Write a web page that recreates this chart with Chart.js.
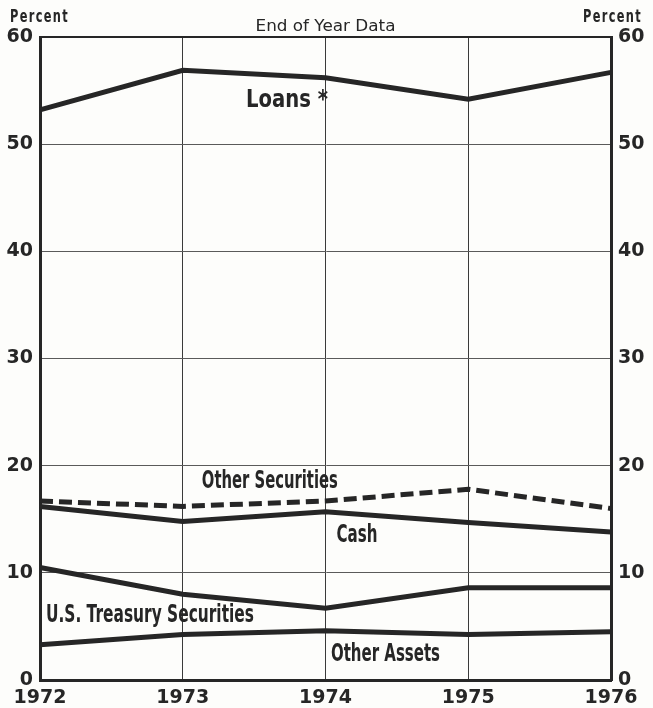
<!DOCTYPE html>
<html>
<head>
<meta charset="utf-8">
<script src="https://cdn.jsdelivr.net/npm/chart.js@4.4.0/dist/chart.umd.min.js"></script>
<style>
  html, body { margin: 0; padding: 0; background: #fdfdfb; }
  #wrap { width: 653px; height: 708px; }
</style>
</head>
<body>
<div id="wrap"><canvas id="assetChart" width="653" height="708"></canvas></div>
<script>
const years = ['1972', '1973', '1974', '1975', '1976'];
const loans = [53.2, 56.9, 56.2, 54.2, 56.7];
const otherSecurities = [16.7, 16.2, 16.7, 17.8, 16.0];
const cash = [16.2, 14.8, 15.7, 14.7, 13.8];
const treasury = [10.5, 8.0, 6.7, 8.6, 8.6];
const otherAssets = [3.3, 4.25, 4.6, 4.25, 4.5];
const yTicks = [0, 10, 20, 30, 40, 50, 60];

const INK = '#262626';
const SANS = "'DejaVu Sans', sans-serif";

// series labels, placed in data units (x = year index, y = percent), w = printed width
const seriesLabels = [
  { text: 'Loans *', x: 1.73, y: 54.1, w: 82 },
  { text: 'Other Securities', x: 1.61, y: 18.5, w: 136 },
  { text: 'Cash', x: 2.22, y: 13.5, w: 41 },
  { text: 'U.S. Treasury Securities', x: 0.77, y: 6.0, w: 208 },
  { text: 'Other Assets', x: 2.42, y: 2.4, w: 109 }
];

// draw text squeezed to a given width (the original uses a condensed face)
function fitText(ctx, text, x, y, w, align) {
  const m = ctx.measureText(text).width;
  const sx = w / m;
  ctx.save();
  ctx.translate(x, y);
  ctx.scale(sx, 1);
  ctx.textAlign = align || 'center';
  ctx.fillText(text, 0, 0);
  ctx.restore();
}

function line(label, data, dashed) {
  return {
    label: label,
    data: data,
    borderColor: INK,
    borderWidth: 5,
    borderDash: dashed ? [13, 6] : [],
    pointRadius: 0,
    tension: 0,
    fill: false
  };
}

const textPlugin = {
  id: 'chartText',
  afterDatasetsDraw(chart) {
    const { ctx, chartArea, scales } = chart;
    ctx.save();
    ctx.fillStyle = INK;
    ctx.textBaseline = 'middle';

    ctx.font = 'bold 25px ' + SANS;
    seriesLabels.forEach(l => {
      fitText(ctx, l.text, scales.x.getPixelForValue(l.x), scales.y.getPixelForValue(l.y), l.w);
    });

    ctx.font = '15px ' + SANS;
    fitText(ctx, 'End of Year Data', (chartArea.left + chartArea.right) / 2, chartArea.top - 10, 140);

    ctx.font = 'bold 17px ' + SANS;
    ctx.letterSpacing = '2px';
    fitText(ctx, 'Percent', 10, chartArea.top - 19, 59, 'left');
    fitText(ctx, 'Percent', chart.width - 11, chartArea.top - 19, 59, 'right');
    ctx.restore();
  }
};

const ctx = document.getElementById('assetChart').getContext('2d');
new Chart(ctx, {
  type: 'line',
  data: {
    labels: years,
    datasets: [
      line('Loans', loans),
      line('Other Securities', otherSecurities, true),
      line('Cash', cash),
      line('U.S. Treasury Securities', treasury),
      line('Other Assets', otherAssets)
    ]
  },
  options: {
    responsive: false,
    animation: false,
    layout: { padding: { top: 37, left: 0, right: 0, bottom: 0 } },
    plugins: {
      legend: { display: false },
      tooltip: { enabled: false }
    },
    scales: {
      x: {
        offset: false,
        grid: { color: '#3a3a3a', lineWidth: 1, drawTicks: false },
        border: { display: true, color: INK, width: 3 },
        ticks: {
          color: INK,
          padding: 7,
          maxRotation: 0,
          autoSkip: false,
          font: { family: SANS, size: 19, weight: 'bold' }
        },
        afterFit(scale) { scale.height = 28; }
      },
      y: {
        position: 'left',
        min: 0,
        max: 60,
        afterBuildTicks(scale) { scale.ticks = yTicks.map(v => ({ value: v })); },
        grid: {
          drawTicks: false,
          color: ctx => ctx.tick && ctx.tick.value === 60 ? INK : '#5a5a5a',
          lineWidth: ctx => ctx.tick && ctx.tick.value === 60 ? 2 : 1
        },
        border: { display: true, color: INK, width: 3 },
        ticks: {
          color: INK,
          padding: 7,
          font: { family: SANS, size: 19, weight: 'bold' }
        },
        afterFit(scale) { scale.width = 40; }
      },
      y2: {
        position: 'right',
        min: 0,
        max: 60,
        afterBuildTicks(scale) { scale.ticks = yTicks.map(v => ({ value: v })); },
        grid: { display: false, drawTicks: false },
        border: { display: true, color: INK, width: 3 },
        ticks: {
          color: INK,
          padding: 7,
          font: { family: SANS, size: 19, weight: 'bold' }
        },
        afterFit(scale) { scale.width = 42; }
      }
    }
  },
  plugins: [textPlugin]
});
</script>
</body>
</html>
